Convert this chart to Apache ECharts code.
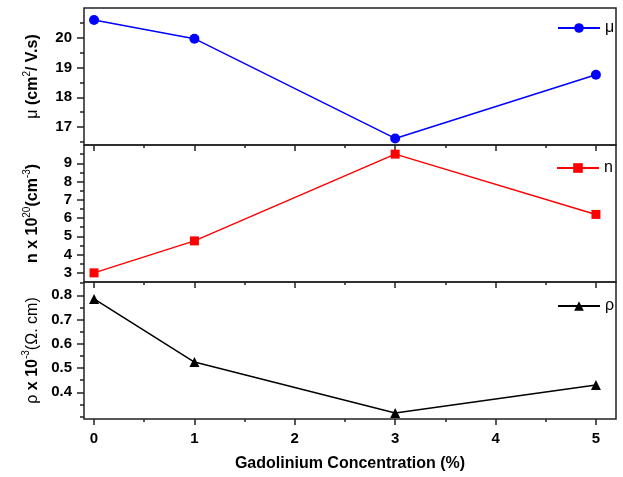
<!DOCTYPE html>
<html>
<head>
<meta charset="utf-8">
<script src="https://cdn.jsdelivr.net/npm/echarts@6/dist/echarts.min.js"></script>
<style>
html, body { margin: 0; padding: 0; background: #fff; }
#chart { width: 623px; height: 477px; }
</style>
</head>
<body>
<div id="chart"></div>
<script>
// data
var conc = [0, 1, 3, 5];
var mu = [20.6, 19.97, 16.62, 18.76];
var nConc = [3.0, 4.75, 9.5, 6.2];
var rho = [0.785, 0.525, 0.315, 0.43];

var xMajor = [0, 1, 2, 3, 4, 5];
var xMinor = [0.5, 1.5, 2.5, 3.5, 4.5];
var muMajor = [17, 18, 19, 20];
var muMinor = [16.5, 17.5, 18.5, 19.5, 20.5];
var nMajor = [3, 4, 5, 6, 7, 8, 9];
var nMinor = [3.5, 4.5, 5.5, 6.5, 7.5, 8.5, 9.5];
var rhoMajor = [0.4, 0.5, 0.6, 0.7, 0.8];
var rhoMinor = [0.3, 0.35, 0.45, 0.55, 0.65, 0.75, 0.85];

var font = "'Liberation Sans', Arial, sans-serif";
var tops = [8, 145, 282];

var myChart = echarts.init(document.getElementById("chart"));

function pairs(ys){
	return conc.map(function(x, i){ return [x, ys[i]]; });
}

var grids = tops.map(function(t){
	return { left: 84, width: 532, top: t, height: 137, show: true,
		borderColor: "#222", borderWidth: 1.5, backgroundColor: "transparent" };
});

var xAxes = [], yAxes = [];
var yRanges = [[16.4, 21.0], [2.5, 10.0], [0.29, 0.855]];
var yMajors = [muMajor, nMajor, rhoMajor];
var yMinors = [muMinor, nMinor, rhoMinor];
var yNames = [
	"{r|μ }{b|(cm}{sup|2}{b|/ V.s)}",
	"{b|n x 10}{sup|20}{b|(cm}{sup|-3}{b|)}",
	"{r|ρ }{b|x 10}{sup|-3}{r|(Ω. cm)}"
];
var nameRich = {
	b: { fontFamily: font, fontWeight: "bold", fontSize: 16, color: "#000", lineHeight: 22 },
	r: { fontFamily: font, fontSize: 16, color: "#000", lineHeight: 22 },
	sup: { fontFamily: font, fontSize: 10, color: "#000", verticalAlign: "top", lineHeight: 22, padding: [0, 0, 8, 0] }
};

for (var g = 0; g < 3; g++) {
	xAxes.push({
		type: "value", gridIndex: g, min: -0.1, max: 5.2, position: "bottom",
		axisLine: { show: false, onZero: false },
		splitLine: { show: false },
		axisTick: { show: true, customValues: xMajor, length: 6, lineStyle: { color: "#222", width: 1.5 } },
		axisLabel: { show: g == 2, customValues: xMajor, margin: 12,
			fontFamily: font, fontWeight: "bold", fontSize: 15, color: "#000" },
		name: g == 2 ? "Gadolinium Concentration (%)" : "",
		nameLocation: "middle", nameGap: 37,
		nameTextStyle: { fontFamily: font, fontWeight: "bold", fontSize: 16, color: "#000" }
	});
	xAxes.push({
		type: "value", gridIndex: g, min: -0.1, max: 5.2, position: "bottom",
		axisLine: { show: false, onZero: false },
		splitLine: { show: false },
		axisTick: { show: true, customValues: xMinor, length: 3, lineStyle: { color: "#222", width: 1.5 } },
		axisLabel: { show: false }
	});
	yAxes.push({
		type: "value", gridIndex: g, min: yRanges[g][0], max: yRanges[g][1], position: "left",
		axisLine: { show: false, onZero: false },
		splitLine: { show: false },
		axisTick: { show: true, customValues: yMajors[g], length: 7, lineStyle: { color: "#222", width: 1.5 } },
		axisLabel: { show: true, customValues: yMajors[g], margin: 12,
			fontFamily: font, fontWeight: "bold", fontSize: 15, color: "#000" },
		name: yNames[g], nameLocation: "middle", nameRotate: 90, nameGap: 40,
		nameTextStyle: { rich: nameRich }
	});
	yAxes.push({
		type: "value", gridIndex: g, min: yRanges[g][0], max: yRanges[g][1], position: "left",
		axisLine: { show: false, onZero: false },
		splitLine: { show: false },
		axisTick: { show: true, customValues: yMinors[g], length: 4, lineStyle: { color: "#222", width: 1.5 } },
		axisLabel: { show: false }
	});
}

var legendText = { fontFamily: font, fontSize: 16, color: "#000" };

var option = {
	animation: false,
	backgroundColor: "#fff",
	grid: grids,
	xAxis: xAxes,
	yAxis: yAxes,
	legend: [
		{ data: ["μ"], left: 557, top: 20, padding: 0, itemWidth: 42, itemHeight: 12, textStyle: legendText },
		{ data: ["n"], left: 556, top: 160, padding: 0, itemWidth: 42, itemHeight: 12, textStyle: legendText },
		{ data: ["ρ"], left: 557, top: 298, padding: 0, itemWidth: 42, itemHeight: 12, textStyle: legendText }
	],
	series: [
		{ name: "μ", type: "line", xAxisIndex: 0, yAxisIndex: 0, data: pairs(mu),
			symbol: "circle", symbolSize: 10, color: "#0000ff",
			lineStyle: { width: 1.5, color: "#0000ff" }, itemStyle: { color: "#0000ff" } },
		{ name: "n", type: "line", xAxisIndex: 2, yAxisIndex: 2, data: pairs(nConc),
			symbol: "rect", symbolSize: 9, color: "#ff0000",
			lineStyle: { width: 1.5, color: "#ff0000" }, itemStyle: { color: "#ff0000" } },
		{ name: "ρ", type: "line", xAxisIndex: 4, yAxisIndex: 4, data: pairs(rho),
			symbol: "triangle", symbolSize: 10, color: "#000",
			lineStyle: { width: 1.5, color: "#000" }, itemStyle: { color: "#000" } }
	]
};
myChart.setOption(option);
</script>
</body>
</html>
